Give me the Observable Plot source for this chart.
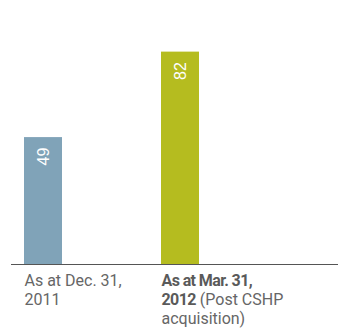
<!DOCTYPE html>
<html><head><meta charset="utf-8">
<script src="https://cdn.jsdelivr.net/npm/d3@7"></script>
<script src="https://cdn.jsdelivr.net/npm/@observablehq/plot@0.6"></script>
<style>body{margin:0;background:#fff}</style>
</head><body><div id="chart"></div>
<script>
const categories = ["Dec 2011", "Mar 2012"];
const values = [49, 82];
const colors = ["#80a3b8", "#b5bc1f"];
const xLabels = ["As at Dec. 31,\n2011", "**As at Mar. 31,\n2012** (Post CSHP\nacquisition)"];

const data = categories.map((c, i) => ({cat: c, value: values[i], color: colors[i], label: xLabels[i]}));
const font = "'Liberation Sans', Arial, sans-serif";
const labelFont = "Roboto, 'Liberation Sans', sans-serif";

const chart = Plot.plot({
  width: 338,
  height: 328,
  marginTop: 5,
  marginBottom: 64,
  marginLeft: 11,
  marginRight: 0,
  style: {fontFamily: font, background: "#fff"},
  x: {domain: categories, range: [23, 199], paddingInner: 0.7246, paddingOuter: 0, axis: null},
  y: {domain: [0, 100], axis: null},
  marks: [
    Plot.barY(data, {x: "cat", y: "value", fill: "color"}),
    Plot.ruleY([0], {stroke: "#555", strokeWidth: 1}),
    Plot.text(data, {x: "cat", y: "value", text: d => String(d.value), rotate: -90, textAnchor: "end", dy: 10, fill: "white", fontSize: 16}),
    Plot.text(data, {x: "cat", y: 0, text: d => d.label.replace(/\*\*/g, ""), textAnchor: "start", dx: -19, fill: "#666", fontSize: 16, fontFamily: labelFont, ariaLabel: () => "xlabels"})
  ]
});

d3.select(chart).selectAll('text[aria-label="xlabels"]').each(function(d, i) {
  const t = d3.select(this);
  t.selectAll("*").remove();
  t.text(null);
  t.attr("y", null).attr("dy", null);
  const lbl = data[i].label;
  let bold = false, lineIdx = 0, first = true;
  const parts = lbl.split("**");
  parts.forEach((part, pi) => {
    if (pi > 0) bold = !bold;
    const lines = part.split("\n");
    lines.forEach((ln, li) => {
      if (li > 0) lineIdx++;
      if (ln === "") return;
      const ts = t.append("tspan").text(ln).attr("font-weight", bold ? "bold" : "normal");
      if (bold) ts.attr("letter-spacing", "-0.6px").attr("fill", "#5a5a5a");
      if (li > 0 || first) { ts.attr("x", 0).attr("y", 21 + lineIdx * 19); }
      first = false;
    });
  });
});

document.getElementById("chart").appendChild(chart);
</script>
</body></html>
